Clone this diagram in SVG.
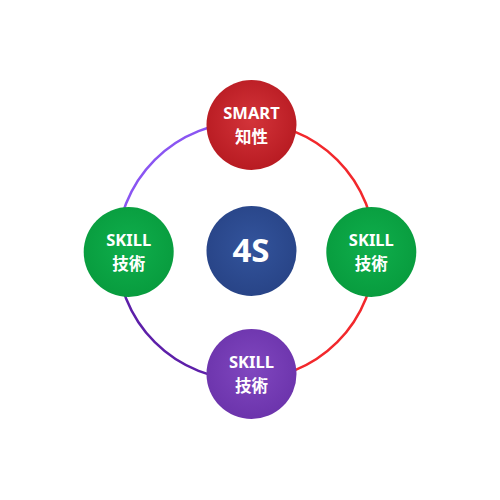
<svg xmlns="http://www.w3.org/2000/svg" width="500" height="500" viewBox="0 0 500 500">
<defs>
<radialGradient id="gRed" cx="50%" cy="45%" r="55%"><stop offset="0" stop-color="#d3343a"/><stop offset="1" stop-color="#b81b22"/></radialGradient>
<radialGradient id="gBlue" cx="50%" cy="45%" r="55%"><stop offset="0" stop-color="#33549c"/><stop offset="1" stop-color="#284487"/></radialGradient>
<radialGradient id="gGreen" cx="50%" cy="45%" r="55%"><stop offset="0" stop-color="#0fae4c"/><stop offset="1" stop-color="#089c3e"/></radialGradient>
<radialGradient id="gPurple" cx="50%" cy="45%" r="55%"><stop offset="0" stop-color="#8047bf"/><stop offset="1" stop-color="#6c34ac"/></radialGradient>
<style>
.arc{fill:none;stroke-width:2.5}
.t{fill:#fff;font-family:"Noto Sans","Noto Sans CJK SC",sans-serif;font-weight:bold;text-anchor:middle}
.l1{font-size:16.5px}
.l2{font-size:16.5px;font-family:"Noto Sans CJK SC","Noto Sans CJK JP",sans-serif}
.big{font-size:33px}
</style>
</defs>
<g id="connectors">
<path class="arc" stroke="#8a55f2" d="M246,122 A129,129 0 0 0 117,251"/>
<path class="arc" stroke="#5d1fa9" d="M117,251 A129,129 0 0 0 246,380"/>
<path class="arc" stroke="#f2282c" d="M246,122 A129,129 0 0 1 375,251"/>
<path class="arc" stroke="#f2282c" d="M375,251 A129,129 0 0 1 246,380"/>
</g>
<g id="node-top">
<circle cx="251.5" cy="125" r="45" fill="url(#gRed)"/>
<text class="t l1" x="251.5" y="119">SMART</text>
<text class="t l2" x="251.5" y="143">知性</text>
</g>
<g id="node-center">
<circle cx="251.5" cy="251" r="45" fill="url(#gBlue)"/>
<text class="t big" x="251" y="262">4S</text>
</g>
<g id="node-left">
<circle cx="128.7" cy="252" r="45" fill="url(#gGreen)"/>
<text class="t l1" x="128.7" y="246">SKILL</text>
<text class="t l2" x="128.7" y="270">技術</text>
</g>
<g id="node-right">
<circle cx="371.3" cy="252" r="45" fill="url(#gGreen)"/>
<text class="t l1" x="371.3" y="246">SKILL</text>
<text class="t l2" x="371.3" y="270">技術</text>
</g>
<g id="node-bottom">
<circle cx="251.5" cy="374" r="45" fill="url(#gPurple)"/>
<text class="t l1" x="251.5" y="368">SKILL</text>
<text class="t l2" x="251.5" y="392">技術</text>
</g>
</svg>
